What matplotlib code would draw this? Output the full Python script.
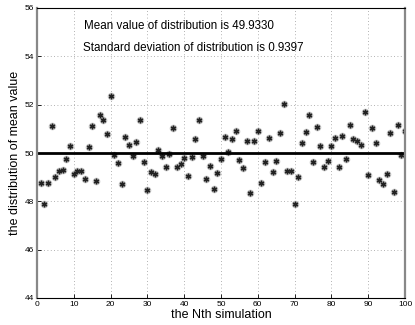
import matplotlib
matplotlib.use('Agg')
import matplotlib.pyplot as plt
import numpy as np

# simulation index and mean value of each run
sim = np.arange(1, 101)
mean_vals = [
    48.74, 47.89, 48.77, 51.13, 49.01, 49.27, 49.30, 49.74, 50.30, 49.12,
    49.27, 49.27, 48.92, 50.26, 51.10, 48.86, 51.59, 51.37, 50.79, 52.37,
    49.90, 49.59, 48.70, 50.65, 50.32, 49.86, 50.46, 51.37, 49.61, 48.48,
    49.23, 49.14, 50.11, 49.89, 49.43, 49.94, 51.02, 49.41, 49.54, 49.81,
    49.03, 49.82, 50.59, 51.35, 49.89, 48.92, 49.46, 48.51, 49.16, 49.75,
    50.68, 50.04, 50.58, 50.90, 49.72, 49.38, 50.51, 48.33, 50.51, 50.92,
    48.76, 49.61, 50.61, 49.23, 49.68, 50.84, 52.03, 49.26, 49.27, 47.89,
    48.99, 50.43, 50.88, 51.59, 49.61, 51.09, 50.30, 49.42, 49.68, 50.28,
    50.63, 49.41, 50.72, 49.74, 51.16, 50.59, 50.48, 50.33, 51.71, 49.09,
    51.03, 50.43, 48.90, 48.72, 49.13, 50.84, 48.39, 51.16, 49.92, 50.90,
]
ref_x = [0, 100]
ref_y = [50, 50]
mean_txt = 'Mean value of distribution is 49.9330'
std_txt = 'Standard deviation of distribution is 0.9397'

plt.rcParams['font.family'] = ['Liberation Sans', 'DejaVu Sans']

fig = plt.figure(figsize=(4.15, 3.25), dpi=100)
ax = fig.add_axes([37/415, 27/325, 368/415, 290/325])

# grey halo + asterisk, like the old matlab render
ax.plot(sim, mean_vals, linestyle='none', marker='o', ms=5.5,
        mfc='#c8c8c8', mec='none')
ax.plot(sim, mean_vals, linestyle='none', marker=(6, 2, 0), ms=4,
        mew=1.0, color='#222222')
ax.plot(ref_x, ref_y, color='black', lw=2)

ax.text(12.8, 55.25, mean_txt, fontsize=8.4, va='center')
ax.text(12.4, 54.34, std_txt, fontsize=8.4, va='center')

ax.set_xlim(0, 100)
ax.set_ylim(44, 56)
ax.set_xticks(np.arange(0, 101, 10))
ax.set_yticks(np.arange(44, 57, 2))
ax.tick_params(direction='in', labelsize=6, length=3, width=0.6, pad=2)
ax.grid(True, linestyle=(0, (1, 3)), color='#999999', lw=0.6)

for side in ['left', 'right']:
    ax.spines[side].set_color('#888888')
    ax.spines[side].set_linewidth(1.6)
for side in ['top', 'bottom']:
    ax.spines[side].set_linewidth(0.8)

ax.set_xlabel('the Nth simulation', fontsize=9, labelpad=1)
ax.set_ylabel('the distribution of mean value', fontsize=9, labelpad=3)

fig.savefig('out.png', dpi=100)
